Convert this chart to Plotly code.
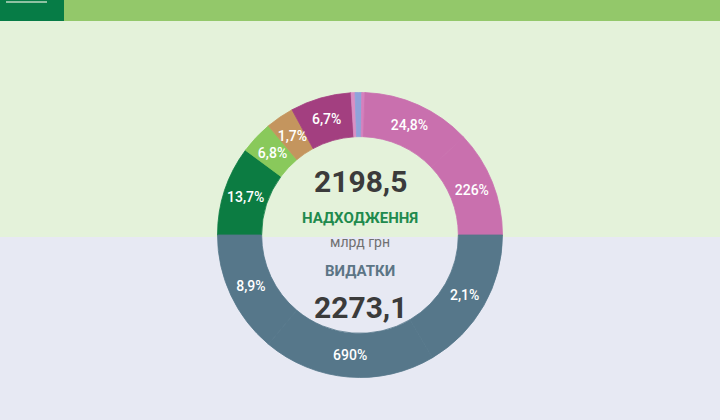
import plotly.graph_objects as go

# ---- data -------------------------------------------------------------
# Revenue ring (top half): visual arc of each slice in degrees, from the
# left edge over the top to the right edge
rev_share_text = ["13,7%", "6,8%", "1,7%", "6,7%", "", "", "", "24,8%", "226%"]
rev_arc_deg = [36.5, 13.5, 11.5, 24.9, 1.6, 2.7, 1.3, 44.5, 43.5]
rev_colors = ["#0c7c42", "#89c95b", "#c4955e", "#a33f80", "#da8fc4",
              "#8fa3da", "#d580bd", "#c970ae", "#c970ae"]

# Expenditure ring (bottom half): from the right edge, under, to the left edge
exp_share_text = ["2,1%", "690%", "8,9%"]
exp_arc_deg = [59.4, 70.6, 50.0]
exp_colors = ["#56778a", "#56778a", "#56778a"]

revenue_total = "2198,5"
revenue_title = "НАДХОДЖЕННЯ"
unit_label = "млрд грн"
expense_title = "ВИДАТКИ"
expense_total = "2273,1"

# ---- figure -----------------------------------------------------------
W, H = 720, 420
CX, CY = 360, 235          # donut centre in px (from top-left)
R_OUT = 142.5
R_LAB = 132.0
LABEL_SIZE = 14

names = [f"Надходження {i+1}" for i in range(len(rev_arc_deg))] + \
        [f"Видатки {i+1}" for i in range(len(exp_arc_deg))]
values = rev_arc_deg + exp_arc_deg
texts = rev_share_text + exp_share_text
colors = rev_colors + exp_colors
narrow = [v < 20 for v in values]
ring_text = [t if not n else "" for t, n in zip(texts, narrow)]
thin_text = [t if n else "" for t, n in zip(texts, narrow)]


def dom(r):
    yc = 1 - CY / H
    return dict(x=[(CX - r) / W, (CX + r) / W], y=[yc - r / H, yc + r / H])


common = dict(labels=names, values=values, sort=False, direction="clockwise",
              rotation=-90, textinfo="text", textposition="inside",
              insidetextorientation="horizontal", hoverinfo="skip",
              showlegend=False,
              textfont=dict(family="Roboto", size=LABEL_SIZE, color="white",
                            weight=500))

fig = go.Figure()
fig.add_trace(go.Pie(text=ring_text, hole=0.69, domain=dom(R_OUT),
                     marker=dict(colors=colors,
                                 line=dict(width=0.8, color=colors)), **common))
fig.add_trace(go.Pie(text=thin_text, hole=0.82, domain=dom(R_LAB),
                     marker=dict(colors=["rgba(0,0,0,0)"] * len(values),
                                 line=dict(width=0)), **common))

split = 1 - 237 / H
bar = 1 - 21 / H
shapes = [
    dict(type="rect", xref="paper", yref="paper", x0=0, x1=1, y0=split, y1=bar,
         fillcolor="#e4f2da", line=dict(width=0), layer="below"),
    dict(type="rect", xref="paper", yref="paper", x0=0, x1=1, y0=bar, y1=1,
         fillcolor="#93c86a", line=dict(width=0), layer="below"),
    dict(type="rect", xref="paper", yref="paper", x0=0, x1=64 / W, y0=bar, y1=1,
         fillcolor="#067c46", line=dict(width=0), layer="below"),
    dict(type="line", xref="paper", yref="paper", x0=6 / W, x1=47 / W,
         y0=1 - 2 / H, y1=1 - 2 / H, line=dict(color="#bcd9c2", width=1.5),
         layer="below"),
]


def ann(text, ypx, size, color, weight):
    return dict(text=text, x=CX / W, y=1 - ypx / H, xref="paper", yref="paper",
                xanchor="center", yanchor="middle", showarrow=False,
                font=dict(family="Roboto", size=size, color=color, weight=weight))


annotations = [
    ann(revenue_total, 181, 30, "#3b3b3b", 700),
    ann(revenue_title, 218, 15, "#1f8a4e", 700),
    ann(unit_label, 242, 14, "#707070", 400),
    ann(expense_title, 271, 15, "#5c7585", 700),
    ann(expense_total, 307.5, 30, "#3b3b3b", 700),
]

fig.update_layout(width=W, height=H, margin=dict(l=0, r=0, t=0, b=0),
                  paper_bgcolor="#e7e9f3", plot_bgcolor="#e7e9f3",
                  shapes=shapes, annotations=annotations,
                  uniformtext=dict(minsize=LABEL_SIZE, mode="show"))

fig.write_html("out.html")
